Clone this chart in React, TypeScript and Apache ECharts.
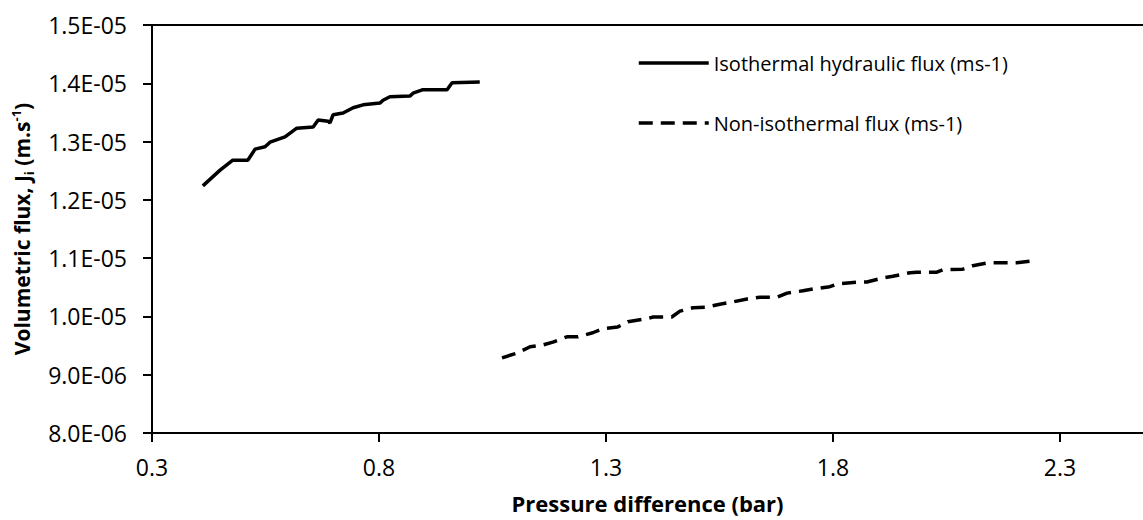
import React, { useEffect, useRef } from "react";
import * as echarts from "echarts";

// Isothermal hydraulic flux (ms-1)
const isoX = [0.412, 0.45, 0.478, 0.511, 0.527, 0.549, 0.56, 0.593, 0.619, 0.655, 0.666, 0.688, 0.692, 0.699, 0.721, 0.743, 0.765, 0.802, 0.809, 0.824, 0.868, 0.875, 0.897, 0.95, 0.961, 1.022];
const isoY = [1.224e-5, 1.251e-5, 1.268e-5, 1.268e-5, 1.287e-5, 1.291e-5, 1.299e-5, 1.308e-5, 1.323e-5, 1.325e-5, 1.337e-5, 1.335e-5, 1.332e-5, 1.346e-5, 1.349e-5, 1.358e-5, 1.363e-5, 1.366e-5, 1.371e-5, 1.377e-5, 1.378e-5, 1.383e-5, 1.389e-5, 1.389e-5, 1.401e-5, 1.402e-5];

// Non-isothermal flux (ms-1)
const nonX = [1.071, 1.104, 1.133, 1.161, 1.183, 1.214, 1.238, 1.271, 1.293, 1.326, 1.348, 1.39, 1.404, 1.445, 1.463, 1.492, 1.522, 1.551, 1.58, 1.611, 1.639, 1.677, 1.699, 1.734, 1.756, 1.793, 1.811, 1.853, 1.875, 1.91, 1.932, 1.97, 1.985, 2.029, 2.042, 2.086, 2.108, 2.141, 2.205, 2.238];
const nonY = [9.29e-6, 9.37e-6, 9.48e-6, 9.51e-6, 9.56e-6, 9.65e-6, 9.65e-6, 9.72e-6, 9.79e-6, 9.82e-6, 9.91e-6, 9.96e-6, 9.99e-6, 9.99e-6, 1.009e-5, 1.015e-5, 1.016e-5, 1.021e-5, 1.025e-5, 1.03e-5, 1.033e-5, 1.033e-5, 1.04e-5, 1.044e-5, 1.047e-5, 1.051e-5, 1.056e-5, 1.059e-5, 1.059e-5, 1.066e-5, 1.069e-5, 1.075e-5, 1.076e-5, 1.076e-5, 1.08e-5, 1.081e-5, 1.087e-5, 1.092e-5, 1.092e-5, 1.095e-5];

const seriesNames = ["Isothermal hydraulic flux (ms-1)", "Non-isothermal flux (ms-1)"];
const xAxisTitle = "Pressure difference (bar)";

const FONT = "'Open Sans', sans-serif";

function sci(v: number): string {
  const e = Math.floor(Math.log10(v) + 1e-9);
  const m = v / Math.pow(10, e);
  const ae = Math.abs(e);
  return `${m.toFixed(1)}E${e < 0 ? "-" : "+"}${ae < 10 ? "0" + ae : ae}`;
}

export default function App() {
  const ref = useRef<HTMLDivElement>(null);
  useEffect(() => {
    if (!ref.current) return;
    const chart = echarts.init(ref.current, undefined, { renderer: "svg" });
    const axisLine = { show: true, lineStyle: { color: "#000", width: 2 } };
    chart.setOption({
      animation: false,
      backgroundColor: "#fff",
      grid: { left: 152, top: 25, right: 0, bottom: 87, containLabel: false },
      legend: {
        orient: "vertical",
        left: 632,
        top: 48,
        itemWidth: 70,
        itemHeight: 20,
        itemGap: 40,
        itemStyle: { opacity: 0 },
        lineStyle: { width: 3.5 },
        textStyle: { fontFamily: FONT, fontSize: 20, color: "#000" },
        data: seriesNames,
      },
      xAxis: [
        {
          type: "value",
          min: 0.3,
          max: 2.483,
          interval: 0.5,
          position: "bottom",
          axisLine,
          axisTick: { show: true, length: 9, lineStyle: { color: "#000", width: 2 } },
          axisLabel: {
            margin: 22,
            fontFamily: FONT,
            fontSize: 23,
            color: "#000",
            showMaxLabel: false,
            formatter: (v: number) => v.toFixed(1),
          },
          splitLine: { show: false },
          name: xAxisTitle,
          nameLocation: "middle",
          nameGap: 59,
          nameTextStyle: { fontFamily: FONT, fontSize: 22, fontWeight: "bold", color: "#000" },
        },
        {
          type: "value",
          min: 0.3,
          max: 2.483,
          position: "top",
          axisLine,
          axisTick: { show: false },
          axisLabel: { show: false },
          splitLine: { show: false },
        },
      ],
      yAxis: {
        type: "value",
        min: 8e-6,
        max: 1.5e-5,
        interval: 1e-6,
        axisLine,
        axisTick: { show: true, length: 9, lineStyle: { color: "#000", width: 2 } },
        axisLabel: {
          margin: 25,
          fontFamily: FONT,
          fontSize: 23,
          color: "#000",
          formatter: (v: number) => sci(v),
        },
        splitLine: { show: false },
        name: "{a|Volumetric flux, J}{sub|i}{a| (m.s}{sup|-1}{a|)}",
        nameLocation: "middle",
        nameGap: 117,
        nameRotate: 90,
        nameTextStyle: {
          rich: {
            a: { fontFamily: FONT, fontSize: 21, fontWeight: "bold", color: "#000", lineHeight: 26, verticalAlign: "middle" },
            sub: { fontFamily: FONT, fontSize: 13, fontWeight: "bold", color: "#000", lineHeight: 14, verticalAlign: "bottom" },
            sup: { fontFamily: FONT, fontSize: 13, fontWeight: "bold", color: "#000", lineHeight: 14, verticalAlign: "top" },
          },
        },
      },
      series: [
        {
          name: seriesNames[0],
          type: "line",
          xAxisIndex: 0,
          data: isoX.map((x, i) => [x, isoY[i]]),
          showSymbol: false,
          symbol: "none",
          lineStyle: { color: "#000", width: 3.5, type: "solid" },
          itemStyle: { color: "#000" },
        },
        {
          name: seriesNames[1],
          type: "line",
          xAxisIndex: 0,
          data: nonX.map((x, i) => [x, nonY[i]]),
          showSymbol: false,
          symbol: "none",
          lineStyle: { color: "#000", width: 3.5, type: [14, 8] },
          itemStyle: { color: "#000" },
        },
      ],
    });
    return () => chart.dispose();
  }, []);
  return <div ref={ref} style={{ width: 1143, height: 520, position: "absolute", left: 0, top: 0 }} />;
}
